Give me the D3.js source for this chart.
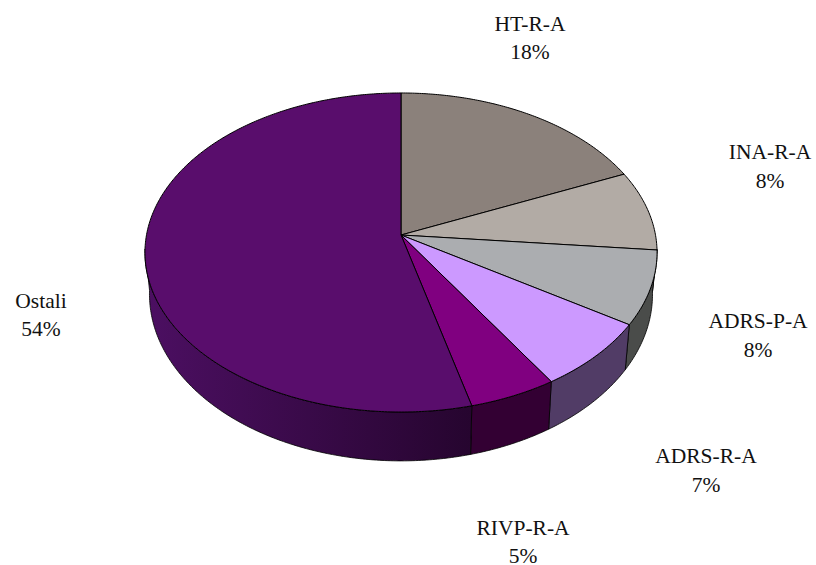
<!DOCTYPE html>
<html>
<head>
<meta charset="utf-8">
<script src="https://cdn.jsdelivr.net/npm/d3@7"></script>
<style>
html, body { margin: 0; padding: 0; background: #fff; overflow: hidden; }
svg { display: block; }
text { font-family: "Liberation Serif", serif; font-size: 21.5px; fill: #111; text-anchor: middle; }
</style>
</head>
<body>
<svg width="816" height="565"></svg>
<script>
// chart values
let categories = ["HT-R-A", "INA-R-A", "ADRS-P-A", "ADRS-R-A", "RIVP-R-A", "Ostali"];
let shares = [18.4, 8.1, 7.5, 7.0, 5.0, 54.0];
let topColours = ["#8b817b", "#b2aba5", "#abadb0", "#cc99ff", "#800080", "#590d6c"];
let wallColours = ["#453f3c", "#585450", "#4a4c4a", "#513c66", "#330033", "#2a0535"];

// label centres, first baseline
let labelX = [530, 770, 758, 706, 523, 41];
let labelY = [30.5, 159, 328, 463, 534.5, 307.5];
let lineGap = 28.5;

let width = 816;
let height = 565;
let svg = d3.select("svg");

// perspective of the disc, top face and bottom face
let persp = 0.1097;
let topFace = {x: 401, y: 235, rx: 254.5, ry: 157.6};
let bottomFace = {x: 401, y: 276, rx: 250, ry: 164.6};

function rim(face, a) {
    let d = 1 + persp * Math.cos(a);
    return [face.x + face.rx * Math.sin(a) / d, face.y - face.ry * Math.cos(a) / d];
}

// sample an arc of the rim
function rimPoints(face, a0, a1) {
    let n = Math.max(2, Math.ceil((a1 - a0) / 0.01));
    return d3.range(n + 1).map(function(i) { return rim(face, a0 + (a1 - a0) * i / n); });
}

let pie = d3.pie().sort(null).value(function(d) { return d; });
let arcs = pie(shares);
let line = d3.line();

// only this part of the side of the disc faces the viewer
let wallStart = 95 * Math.PI / 180;
let wallEnd = 265 * Math.PI / 180;

let defs = svg.append("defs");
let wallShade = defs.append("linearGradient")
    .attr("id", "wallShade")
    .attr("gradientUnits", "userSpaceOnUse")
    .attr("x1", 145).attr("x2", 471).attr("y1", 0).attr("y2", 0);
wallShade.append("stop").attr("offset", "0%").attr("stop-color", "#4c0f62");
wallShade.append("stop").attr("offset", "100%").attr("stop-color", "#26052f");

//draw the side of the disc
svg.append("g")
    .selectAll("path")
    .data(arcs)
    .enter()
    .append("path")
    .attr("d", function(d) {
        let a0 = Math.max(d.startAngle, wallStart);
        let a1 = Math.min(d.endAngle, wallEnd);
        if (a1 <= a0) return null;
        return line(rimPoints(topFace, a0, a1).concat(rimPoints(bottomFace, a0, a1).reverse())) + "Z";
    })
    .attr("fill", function(d) { return d.index == 5 ? "url(#wallShade)" : wallColours[d.index]; })
    .attr("stroke", "#000")
    .attr("stroke-width", 0.8)
    .attr("stroke-linejoin", "round");

//draw the top face
svg.append("g")
    .selectAll("path")
    .data(arcs)
    .enter()
    .append("path")
    .attr("d", function(d) {
        return line([[topFace.x, topFace.y]].concat(rimPoints(topFace, d.startAngle, d.endAngle))) + "Z";
    })
    .attr("fill", function(d) { return topColours[d.index]; })
    .attr("stroke", "#000")
    .attr("stroke-width", 1)
    .attr("stroke-linejoin", "round");

//labels, name and rounded percent
let label = svg.append("g")
    .selectAll("text")
    .data(categories)
    .enter()
    .append("text")
    .attr("y", function(d, i) { return labelY[i]; });

label.append("tspan")
    .attr("x", function(d, i) { return labelX[i]; })
    .text(function(d) { return d; });

label.append("tspan")
    .attr("x", function(d, i) { return labelX[i]; })
    .attr("dy", lineGap)
    .text(function(d, i) { return Math.round(shares[i]) + "%"; });
</script>
</body>
</html>
